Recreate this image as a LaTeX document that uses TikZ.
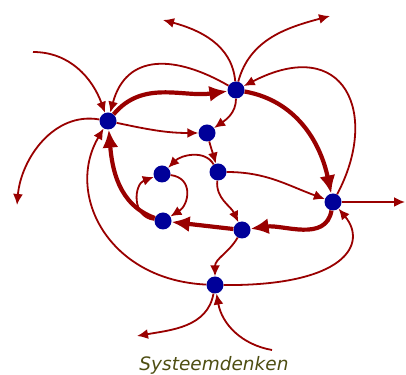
\documentclass[tikz,border=0pt]{standalone}
\usepackage{fontspec}
\newfontfamily\titelfont{DejaVu Sans}
\usepackage{tikz}
\usetikzlibrary{arrows.meta}
\definecolor{darkred}{RGB}{153,0,0}
\definecolor{darkblue}{RGB}{0,0,153}
\definecolor{olijf}{RGB}{78,78,18}

\begin{document}
\begin{tikzpicture}[x=1pt,y=1pt,
        knoop/.style={circle, fill=darkblue, inner sep=0pt, minimum size=17pt},
        dun/.style={darkred, line width=1.8pt, -{Latex[length=11pt,width=10pt]}},
        dik/.style={darkred, line width=4.2pt, -{Latex[length=18pt,width=16pt]}}]
        \useasboundingbox (0,0) rectangle (406,374);
        % Knopen
        \node[knoop] (A) at (108,253) {};
        \node[knoop] (B) at (236,284) {};
        \node[knoop] (C) at (207,241) {};
        \node[knoop] (D) at (162,200) {};
        \node[knoop] (E) at (218,202) {};
        \node[knoop] (F) at (333,172) {};
        \node[knoop] (G) at (163,153) {};
        \node[knoop] (H) at (242,144) {};
        \node[knoop] (I) at (215,89) {};
        % Losse eindpunten
        \coordinate (lb) at (33,322);
        \coordinate (bl) at (163,354);
        \coordinate (br) at (330,358);
        \coordinate (lo) at (17,169);
        \coordinate (re) at (405,172);
        \coordinate (ol) at (137,38);
        \coordinate (or) at (272,24);
        % Hoofdlus
        \draw[dik] (A) to[out=50,in=188] (B);
        \draw[dik] (B) to[out=-10,in=102] (F);
        \draw[dik] (F) to[out=-100,in=8] (H);
        \draw[dik] (H) to (G);
        \draw[dik] (G) to[out=160,in=-85] (A);
        % Binnen
        \draw[dun] (A) to[out=-12,in=180] (C);
        \draw[dun] (B) to[out=-90,in=35] (C);
        \draw[dun] (C) to[out=-75,in=105] (E);
        \draw[dun] (E) to[out=120,in=45] (D);
        \draw[dun] (E) to[out=0,in=160] (F);
        \draw[dun] (E) to[out=-95,in=115] (H);
        \draw[dun] (D) .. controls +(32,-4) and +(26,16) .. (G);
        \draw[dun] (G) .. controls +(-32,4) and +(-28,-10) .. (D);
        \draw[dun] (H) to[out=-120,in=90] (I);
        % Buiten
        \draw[dun] (B) to[out=150,in=75,looseness=1.3] (A);
        \draw[dun] (lb) to[out=0,in=110] (A);
        \draw[dun] (B) to[out=95,in=-15] (bl);
        \draw[dun] (B) to[out=75,in=195] (br);
        \draw[dun] (F) .. controls +(47,88) and +(109,56) .. (B);
        \draw[dun] (A) to[out=170,in=85] (lo);
        \draw[dun] (I) .. controls +(-107,5) and +(-43,-73) .. (A);
        \draw[dun] (I) .. controls +(130,-1) and +(35,-42) .. (F);
        \draw[dun] (F) -- (re);
        \draw[dun] (I) to[out=-100,in=10] (ol);
        \draw[dun] (or) to[out=170,in=-80] (I);
        % Titel
        \node[text=olijf, font=\titelfont\itshape\fontsize{18.5}{20}\selectfont] (titel) at (214,9) {Systeemdenken};
    \end{tikzpicture}
\end{document}
